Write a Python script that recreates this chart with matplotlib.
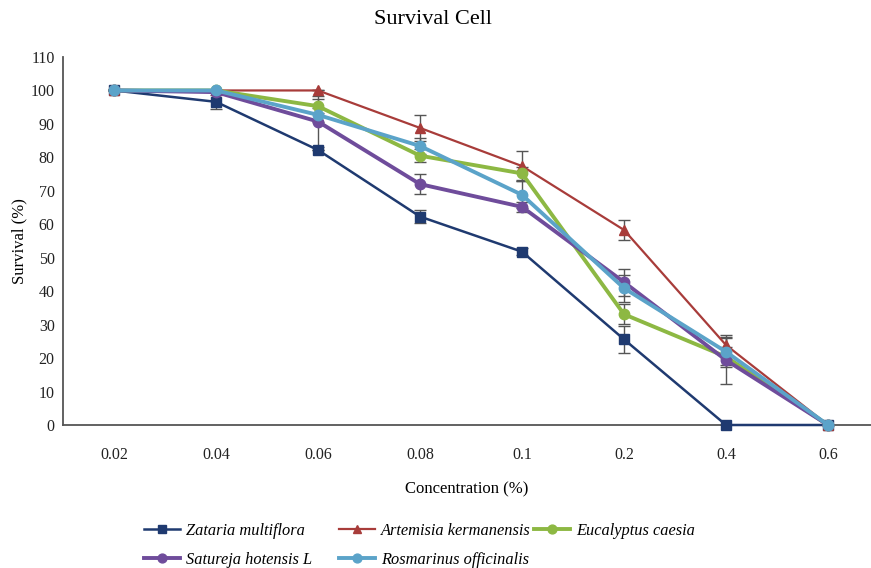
import matplotlib
matplotlib.use("Agg")
import matplotlib.pyplot as plt
import numpy as np

plt.rcParams['font.family'] = ['Liberation Serif', 'DejaVu Serif']

concentrations = ["0.02", "0.04", "0.06", "0.08", "0.1", "0.2", "0.4", "0.6"]

zataria = [100, 96.6, 82.2, 62.3, 51.8, 25.6, 0, 0]
zataria_err = [0, 2.0, 0, 2.0, 1.0, 4.0, 0, 0]

artemisia = [100, 100, 100, 88.8, 77.4, 58.3, 23.9, 0]
artemisia_err = [0, 0, 0, 4.0, 4.5, 3.0, 3.0, 0]

eucalyptus = [100, 100, 95.3, 80.5, 75.2, 33.1, 20.4, 0]
eucalyptus_err = [0, 0, 2.0, 2.0, 2.0, 3.0, 3.0, 0]

satureja = [100, 99.5, 90.7, 72.0, 65.2, 42.7, 19.4, 0]
satureja_err = [0, 0, 7.5, 3.0, 1.5, 4.0, 7.0, 0]

rosmarinus = [100, 100, 92.7, 83.4, 68.8, 40.9, 21.9, 0]
rosmarinus_err = [0, 0, 2.0, 2.5, 4.0, 4.0, 4.0, 0]

series = [
    ("Zataria multiflora", zataria, zataria_err, "#1F3A70", "s", 1.8),
    ("Artemisia kermanensis", artemisia, artemisia_err, "#A83C3A", "^", 1.6),
    ("Eucalyptus caesia", eucalyptus, eucalyptus_err, "#8DB843", "o", 2.8),
    ("Satureja hotensis L", satureja, satureja_err, "#6F4C9B", "o", 2.8),
    ("Rosmarinus officinalis", rosmarinus, rosmarinus_err, "#5BA3C9", "o", 2.8),
]

W, H = 871, 568
fig = plt.figure(figsize=(W/100, H/100), dpi=100)
ax = fig.add_axes([63/W, 1-425/H, 808/W, 368/H])

x = np.arange(len(concentrations))
handles = {}
for name, vals, err, col, mk, lw in series:
    ax.errorbar(x, vals, yerr=err, fmt='none', ecolor='#555555', elinewidth=1.0,
                capsize=4, capthick=1.0, zorder=2)
    h, = ax.plot(x, vals, color=col, marker=mk, markersize=7 if mk != 'o' else 7.5,
                 linewidth=lw, label=name, zorder=3, clip_on=False)
    handles[name] = h

ax.set_xlim(-0.5, -0.5 + 808/102)
ax.set_ylim(0, 110)
ax.set_yticks(range(0, 111, 10))
ax.set_xticks(x)
ax.set_xticklabels(concentrations)
ax.tick_params(axis='both', length=0, labelsize=11.5, colors='#222222')
ax.tick_params(axis='x', pad=16)
ax.tick_params(axis='y', pad=6)
for s in ['top', 'right']:
    ax.spines[s].set_visible(False)
for s in ['left', 'bottom']:
    ax.spines[s].set_color('#555555')
    ax.spines[s].set_linewidth(1.3)

ax.set_xlabel("Concentration (%)", fontsize=12, labelpad=13)
ax.set_ylabel("Survival (%)", fontsize=12, labelpad=2)
fig.text(0.497, 1-20/H, "Survival Cell", ha='center', va='center', fontsize=16)

columns = [
    (["Zataria multiflora", "Satureja hotensis L"], 144),
    (["Artemisia kermanensis", "Rosmarinus officinalis"], 339),
    (["Eucalyptus caesia"], 534),
]
for names, xpix in columns:
    leg = fig.legend([handles[n] for n in names], names, loc='upper left',
                     bbox_to_anchor=(xpix/W, 1-523/H), frameon=False,
                     prop={'style': 'italic', 'size': 11.8}, handlelength=2.2,
                     handletextpad=0.35, labelspacing=0.78, borderpad=0,
                     borderaxespad=0, markerscale=0.85)

fig.savefig("out.png", dpi=100)
